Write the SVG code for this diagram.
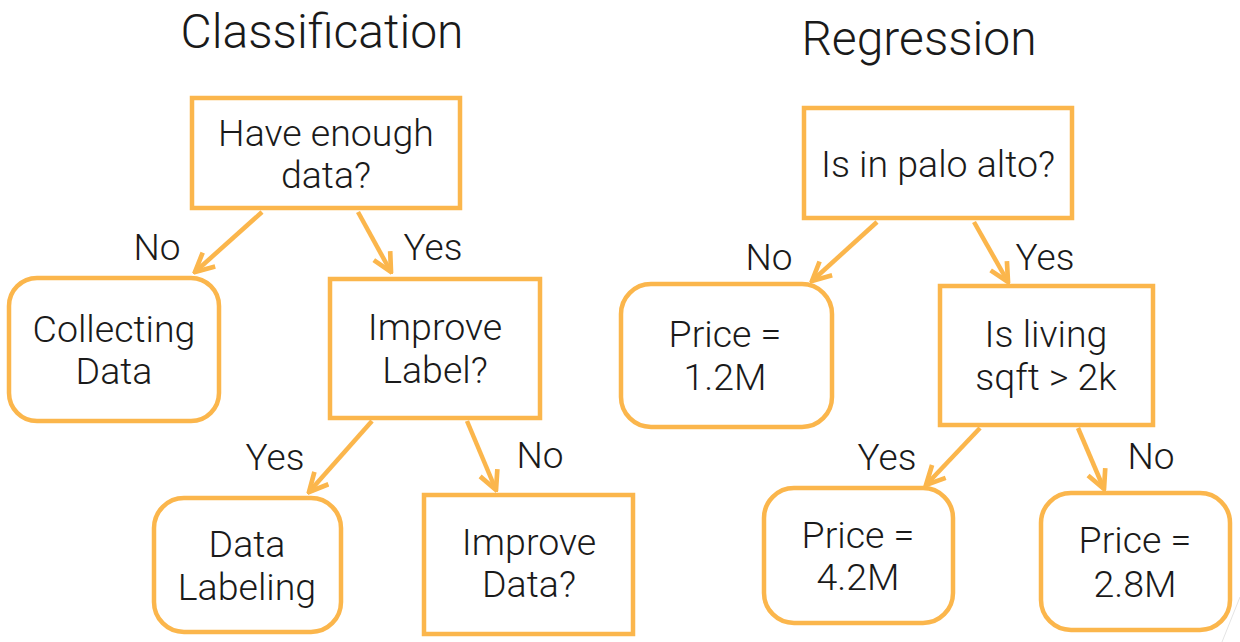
<svg xmlns="http://www.w3.org/2000/svg" width="1240" height="642" viewBox="0 0 1240 642">
<defs>
<style>
.box{fill:#ffffff;stroke:#FBB64C;stroke-width:4.5}
.t{font-family:Roboto,"Liberation Sans",sans-serif;font-weight:300;fill:#1a1a1a;text-anchor:middle}
.n{font-size:37.5px}
.lbl{font-size:37px}
.title{font-size:48px}
.edge{stroke:#FBB64C;stroke-width:4.5;fill:none;marker-end:url(#arr)}
</style>
<marker id="arr" viewBox="0 0 10 10" refX="9" refY="5" markerWidth="5.2" markerHeight="5.2" orient="auto" markerUnits="strokeWidth">
<path d="M1,1 L9,5 L1,9" fill="none" stroke="#FBB64C" stroke-width="2" stroke-linecap="butt" stroke-linejoin="miter"/>
</marker>
</defs>
<rect width="1240" height="642" fill="#ffffff"/>
<line x1="1240" y1="597" x2="1222" y2="642" stroke="#e4e4e4" stroke-width="1"/>
<text class="t title" x="322" y="48">Classification</text>
<text class="t title" x="919" y="55">Regression</text>

<g id="connectors">
<line class="edge" x1="262" y1="212" x2="195" y2="272"/>
<line class="edge" x1="358" y1="212" x2="391" y2="272"/>
<line class="edge" x1="372" y1="421" x2="309" y2="492"/>
<line class="edge" x1="467" y1="421" x2="496" y2="490"/>
<line class="edge" x1="877" y1="222" x2="812" y2="281"/>
<line class="edge" x1="974" y1="222" x2="1008" y2="282"/>
<line class="edge" x1="980" y1="428" x2="926" y2="485"/>
<line class="edge" x1="1078" y1="428" x2="1104" y2="489"/>
<text class="t lbl" x="157" y="260">No</text>
<text class="t lbl" x="433" y="260">Yes</text>
<text class="t lbl" x="275" y="470">Yes</text>
<text class="t lbl" x="540" y="468">No</text>
<text class="t lbl" x="769" y="270">No</text>
<text class="t lbl" x="1045" y="270">Yes</text>
<text class="t lbl" x="887" y="470">Yes</text>
<text class="t lbl" x="1151" y="469">No</text>
</g>

<g id="have-enough-data">
<rect class="box" x="192" y="98" width="268" height="110"/>
<text class="t n" x="326" y="146">Have enough</text>
<text class="t n" x="326" y="188">data?</text>
</g>
<g id="collecting-data">
<rect class="box" x="9" y="278" width="210" height="143" rx="28"/>
<text class="t n" x="114" y="342">Collecting</text>
<text class="t n" x="114" y="384">Data</text>
</g>
<g id="improve-label">
<rect class="box" x="330" y="279" width="210" height="139"/>
<text class="t n" x="435" y="340">Improve</text>
<text class="t n" x="435" y="383">Label?</text>
</g>
<g id="data-labeling">
<rect class="box" x="154" y="498" width="187" height="134" rx="30"/>
<text class="t n" x="247" y="557">Data</text>
<text class="t n" x="247" y="600">Labeling</text>
</g>
<g id="improve-data">
<rect class="box" x="424" y="495" width="209" height="139"/>
<text class="t n" x="529" y="555">Improve</text>
<text class="t n" x="529" y="597">Data?</text>
</g>

<g id="is-in-palo-alto">
<rect class="box" x="804" y="108" width="268" height="110"/>
<text class="t n" x="938" y="177">Is in palo alto?</text>
</g>
<g id="price-1-2m">
<rect class="box" x="621" y="284" width="211" height="143" rx="30"/>
<text class="t n" x="725" y="347">Price =</text>
<text class="t n" x="725" y="390">1.2M</text>
</g>
<g id="is-living-sqft">
<rect class="box" x="940" y="286" width="213" height="139"/>
<text class="t n" x="1046" y="347">Is living</text>
<text class="t n" x="1046" y="390">sqft &gt; 2k</text>
</g>
<g id="price-4-2m">
<rect class="box" x="764" y="488" width="189" height="135" rx="30"/>
<text class="t n" x="858" y="548">Price =</text>
<text class="t n" x="858" y="590">4.2M</text>
</g>
<g id="price-2-8m">
<rect class="box" x="1041" y="493" width="189" height="137" rx="30"/>
<text class="t n" x="1135" y="553">Price =</text>
<text class="t n" x="1135" y="597">2.8M</text>
</g>
</svg>
